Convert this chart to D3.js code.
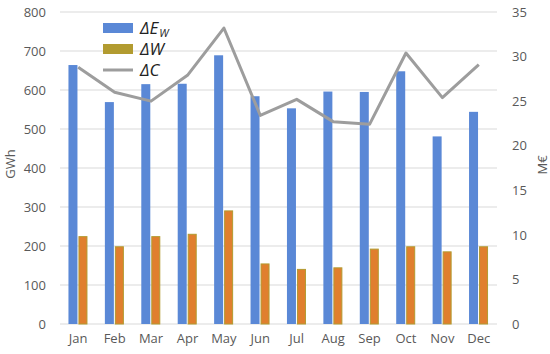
<!DOCTYPE html>
<html>
<head>
<meta charset="utf-8">
<script src="https://cdn.jsdelivr.net/npm/d3@7"></script>
<style>
  body { margin: 0; background: #fff; }
  text { font-family: "Open Sans", "Liberation Sans", sans-serif; }
</style>
</head>
<body>
<div id="chart"></div>
<script>
// monthly data
const months = ["Jan", "Feb", "Mar", "Apr", "May", "Jun", "Jul", "Aug", "Sep", "Oct", "Nov", "Dec"];
const deltaEw = [664, 569, 615, 616, 689, 584, 553, 596, 595, 648, 481, 544]; // GWh
const deltaW = [224, 198, 224, 230, 290, 154, 140, 144, 192, 198, 185, 198];  // GWh
const deltaC = [28.8, 26.0, 25.0, 27.9, 33.2, 23.4, 25.2, 22.7, 22.4, 30.4, 25.4, 29.1]; // M€
const leftTicks = [0, 100, 200, 300, 400, 500, 600, 700, 800];
const rightTicks = [0, 5, 10, 15, 20, 25, 30, 35];

const W = 550, H = 354;
const margin = {top: 12, right: 53, bottom: 30, left: 60};
const width = W - margin.left - margin.right,
      height = H - margin.top - margin.bottom;

const svg = d3.select("#chart").append("svg")
    .attr("width", W).attr("height", H)
  .append("g")
    .attr("transform", `translate(${margin.left}, ${margin.top})`);

const x = d3.scaleBand().domain(months).range([0, width]);
const y = d3.scaleLinear().domain([0, 800]).range([height, 0]);
const y2 = d3.scaleLinear().domain([0, 35]).range([height, 0]);

// gridlines
svg.append("g")
  .selectAll("line")
  .data(leftTicks)
  .join("line")
    .attr("x1", 0).attr("x2", width)
    .attr("y1", d => y(d)).attr("y2", d => y(d))
    .attr("stroke", "#d9d9d9").attr("stroke-width", 1);

// left axis
const yAxis = svg.append("g")
  .call(d3.axisLeft(y).tickValues(leftTicks).tickSize(0).tickPadding(14));
yAxis.select(".domain").remove();
yAxis.selectAll("text").attr("font-size", 13).attr("fill", "#595959");

// right axis
const y2Axis = svg.append("g")
  .attr("transform", `translate(${width}, 0)`)
  .call(d3.axisRight(y2).tickValues(rightTicks).tickSize(0).tickPadding(15));
y2Axis.select(".domain").remove();
y2Axis.selectAll("text").attr("font-size", 13).attr("fill", "#595959");

// x axis
const xAxis = svg.append("g")
  .attr("transform", `translate(0, ${height})`)
  .call(d3.axisBottom(x).tickSize(0).tickPadding(10));
xAxis.select(".domain").remove();
xAxis.selectAll("text").attr("font-size", 13).attr("fill", "#595959");

// axis titles
svg.append("text")
  .attr("transform", `translate(${10 - margin.left}, 152) rotate(-90)`)
  .attr("text-anchor", "middle").attr("dy", "0.35em")
  .attr("font-size", 13).attr("fill", "#595959")
  .text("GWh");
svg.append("text")
  .attr("transform", `translate(${width + 45}, 153) rotate(-90)`)
  .attr("text-anchor", "middle").attr("dy", "0.35em")
  .attr("font-size", 13).attr("fill", "#595959")
  .text("M€");

// bars
const barW = 9, gap = 1.5;
svg.append("g")
  .selectAll("rect")
  .data(months)
  .join("rect")
    .attr("x", d => x(d) + x.bandwidth() / 2 - barW - gap / 2)
    .attr("y", (d, i) => y(deltaEw[i]))
    .attr("width", barW)
    .attr("height", (d, i) => height - y(deltaEw[i]))
    .attr("fill", "#5a88d6");

svg.append("g")
  .selectAll("rect")
  .data(months)
  .join("rect")
    .attr("x", d => x(d) + x.bandwidth() / 2 + gap / 2)
    .attr("y", (d, i) => y(deltaW[i]))
    .attr("width", barW - 1)
    .attr("height", (d, i) => height - y(deltaW[i]))
    .attr("fill", "#e07f2e")
    .attr("stroke", "#b29b30").attr("stroke-width", 1);

// cost line
const line = d3.line()
  .x((d, i) => x(months[i]) + x.bandwidth() / 2)
  .y(d => y2(d));
svg.append("path")
  .datum(deltaC)
  .attr("d", line)
  .attr("fill", "none")
  .attr("stroke", "#9d9d9d")
  .attr("stroke-width", 3)
  .attr("stroke-linejoin", "round");

// legend
const legend = svg.append("g").attr("transform", `translate(${103 - margin.left}, ${12 - margin.top})`);
const items = [
  {label: "ΔE", sub: "W", color: "#5a88d6", type: "rect"},
  {label: "ΔW", sub: "", color: "#b29b30", type: "rect"},
  {label: "ΔC", sub: "", color: "#9d9d9d", type: "line"}
];
items.forEach((it, i) => {
  const g = legend.append("g").attr("transform", `translate(0, ${16 + i * 21})`);
  if (it.type === "rect") {
    g.append("rect").attr("x", 0).attr("y", -5).attr("width", 30).attr("height", 10).attr("fill", it.color);
  } else {
    g.append("line").attr("x1", 0).attr("x2", 30).attr("y1", 0).attr("y2", 0)
      .attr("stroke", it.color).attr("stroke-width", 3);
  }
  const t = g.append("text").attr("x", 37).attr("y", 6)
    .attr("font-family", "Liberation Sans, sans-serif")
    .attr("font-size", 17).attr("font-style", "italic").attr("fill", "#222")
    .text(it.label);
  if (it.sub) {
    const w = t.node().getComputedTextLength();
    g.append("text").attr("x", 37 + w + 1).attr("y", 8.5)
      .attr("font-family", "Liberation Sans, sans-serif")
      .attr("font-size", 11).attr("font-style", "italic").attr("fill", "#222")
      .text(it.sub);
  }
});
</script>
</body>
</html>
